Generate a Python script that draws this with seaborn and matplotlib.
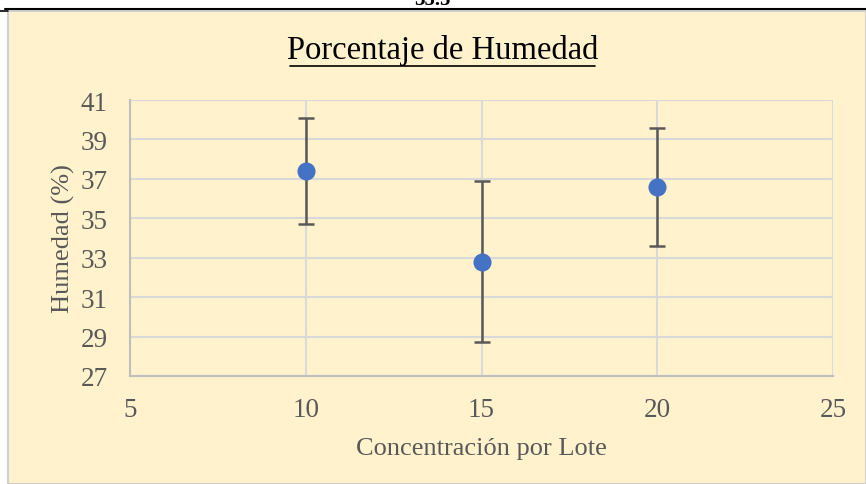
import numpy as np
import matplotlib
matplotlib.use("Agg")
import matplotlib.pyplot as plt
import seaborn as sns
import pandas as pd

concentracion = [10, 15, 20]
humedad = [37.4, 32.8, 36.6]
error = [2.7, 4.1, 3.0]
x_ticks = [5, 10, 15, 20, 25]
y_ticks = [27, 29, 31, 33, 35, 37, 39, 41]

df = pd.DataFrame({"Concentracion": concentracion, "Humedad": humedad, "err": error})

sns.set_style("white")
plt.rcParams["font.family"] = ["Liberation Serif", "DejaVu Serif"]

fig = plt.figure(figsize=(8.66, 4.85), dpi=100)
fig.patch.set_facecolor("white")

# chart area background with thin gray border
bg = plt.Rectangle((8 / 866, 0), 1 - 8 / 866, 1 - 12 / 485, transform=fig.transFigure,
                   facecolor="#FFF2CC", edgecolor="#D0D0D0", linewidth=1.5, zorder=-5)
fig.patches.append(bg)
# black line from the page above
fig.add_artist(plt.Line2D([5 / 866, 1], [1 - 9.5 / 485, 1 - 9.5 / 485], color="black", lw=1.5,
                          transform=fig.transFigure))
fig.add_artist(plt.Line2D([0, 8 / 866], [1 - 11.5 / 485, 1 - 11.5 / 485], color="black", lw=1.2,
                          transform=fig.transFigure))
fig.text(432 / 866, 1.0, "35.5", ha="center", va="center", fontsize=15, fontweight="bold", color="black")

ax = fig.add_axes([130 / 866, 1 - 377 / 485, (833 - 130) / 866, (377 - 101) / 485])
ax.set_facecolor("none")
ax.set_zorder(2)

ax.errorbar(df["Concentracion"], df["Humedad"], yerr=df["err"], fmt="none",
            ecolor="#595959", elinewidth=1.8, capsize=6, capthick=1.8, zorder=3)
sns.scatterplot(data=df, x="Concentracion", y="Humedad", ax=ax, s=170,
                color="#4472C4", edgecolor="#4472C4", linewidth=0, zorder=4)

ax.set_xlim(5, 25)
ax.set_ylim(27, 41)
ax.set_xticks(x_ticks)
ax.set_yticks(y_ticks)
ax.grid(True, color="#D9D9D9", linewidth=1.5)
ax.set_axisbelow(True)
for s in ["top", "right"]:
    ax.spines[s].set_visible(False)
for s in ["left", "bottom"]:
    ax.spines[s].set_color("#BFBFBF")
    ax.spines[s].set_linewidth(1.5)
ax.tick_params(axis="both", length=0, labelsize=19.5, labelcolor="#595959")
ax.tick_params(axis="x", pad=15)
ax.tick_params(axis="y", pad=16)

ax.set_xlabel("Concentración por Lote", fontsize=19, color="#595959", labelpad=11)
ax.set_ylabel("Humedad (%)", fontsize=19, color="#595959", labelpad=4)

fig.text(443 / 866, 1 - 51 / 485, "Porcentaje de Humedad", ha="center", va="center",
         fontsize=23.5, color="black")
fig.add_artist(plt.Line2D([290 / 866, 595 / 866], [1 - 67 / 485, 1 - 67 / 485], color="black", lw=1.2,
                          transform=fig.transFigure))

fig.savefig("out.png", dpi=100, facecolor=fig.get_facecolor())
